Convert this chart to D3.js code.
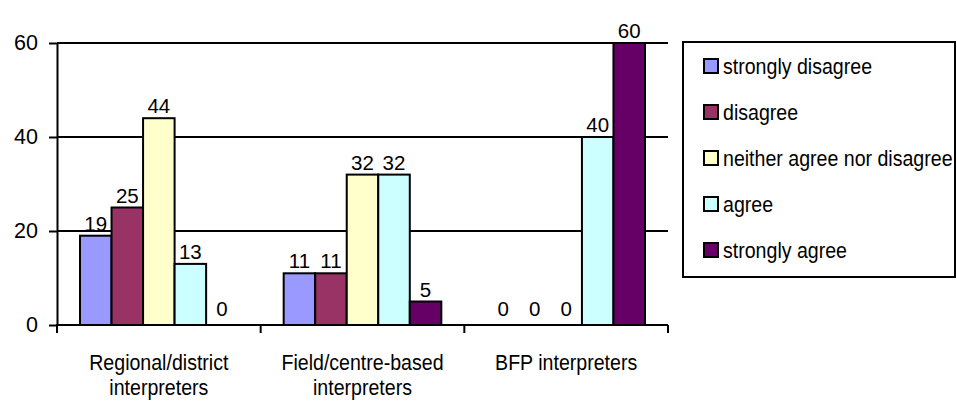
<!DOCTYPE html>
<html>
<head>
<meta charset="utf-8">
<script src="https://cdn.jsdelivr.net/npm/d3@7/dist/d3.min.js"></script>
<style>
  html, body { margin: 0; padding: 0; background: #fff; }
  svg { display: block; font-family: "Liberation Sans", Arial, sans-serif; }
</style>
</head>
<body>
<svg id="chart" width="957" height="401"></svg>
<script>
// Survey responses by interpreter group (percent)
const categories = [
  ["Regional/district", "interpreters"],
  ["Field/centre-based", "interpreters"],
  ["BFP interpreters"]
];
const seriesNames = [
  "strongly disagree",
  "disagree",
  "neither agree nor disagree",
  "agree",
  "strongly agree"
];
const seriesColors = ["#9999FF", "#993366", "#FFFFCC", "#CCFFFF", "#660066"];
// one array per response, one value per interpreter group
const stronglyDisagree = [19, 11, 0];
const disagree = [25, 11, 0];
const neither = [44, 32, 0];
const agree = [13, 32, 40];
const stronglyAgree = [0, 5, 60];
const yTicks = [0, 20, 40, 60];

const values = [stronglyDisagree, disagree, neither, agree, stronglyAgree];
const catKeys = categories.map((c, i) => "c" + i);

// word labels use a tall, slightly condensed face
const WORD_SIZE = 22;
const WORD_SQUEEZE = 0.89;

const svg = d3.select("#chart");
const plot = { left: 57, right: 668, top: 43, bottom: 325 };

const y = d3.scaleLinear().domain([0, 60]).range([plot.bottom, plot.top]);
const x0 = d3.scaleBand().domain(catKeys).range([plot.left, plot.right]).padding(0);
const x1 = d3.scaleBand().domain(d3.range(seriesNames.length))
  .range([0, x0.bandwidth()]).paddingInner(0).paddingOuter(0.73);

// horizontal gridlines
svg.append("g")
  .selectAll("line")
  .data(yTicks.filter(t => t > 0))
  .join("line")
  .attr("x1", plot.left).attr("x2", plot.right)
  .attr("y1", d => y(d)).attr("y2", d => y(d))
  .attr("stroke", "#000").attr("stroke-width", 2);

// bars
const groups = svg.append("g")
  .selectAll("g")
  .data(catKeys)
  .join("g")
  .attr("transform", d => `translate(${x0(d)},0)`);

groups.selectAll("rect")
  .data((d, ci) => values.map((s, si) => ({ si, v: s[ci] })).filter(e => e.v > 0))
  .join("rect")
  .attr("x", d => x1(d.si))
  .attr("width", x1.bandwidth())
  .attr("y", d => y(d.v))
  .attr("height", d => y(0) - y(d.v))
  .attr("fill", d => seriesColors[d.si])
  .attr("stroke", "#000").attr("stroke-width", 2);

// value labels
groups.selectAll("text")
  .data((d, ci) => values.map((s, si) => ({ si, v: s[ci] })))
  .join("text")
  .attr("x", d => x1(d.si) + x1.bandwidth() / 2)
  .attr("y", d => d.v > 0 ? y(d.v) - 5 : y(0) - 9)
  .attr("text-anchor", "middle")
  .attr("font-size", 20.5)
  .attr("fill", "#000")
  .text(d => d.v);

// y axis
const yAxis = svg.append("g")
  .attr("transform", `translate(${plot.left},0)`)
  .call(d3.axisLeft(y).tickValues(yTicks).tickSize(8).tickPadding(11).tickSizeOuter(0));
yAxis.select(".domain").attr("stroke", "#000").attr("stroke-width", 2);
yAxis.selectAll(".tick line").attr("stroke", "#000").attr("stroke-width", 2);
yAxis.selectAll(".tick text")
  .attr("font-size", 21.5)
  .attr("font-family", "Liberation Sans, Arial, sans-serif")
  .attr("fill", "#000");

// x axis with ticks at group boundaries
const xBoundaries = catKeys.map(k => x0(k)).concat([plot.right]);
const xAxisG = svg.append("g");
xAxisG.append("line")
  .attr("x1", plot.left - 1).attr("x2", plot.right)
  .attr("y1", y(0)).attr("y2", y(0))
  .attr("stroke", "#000").attr("stroke-width", 2);
xAxisG.selectAll("line.tk")
  .data(xBoundaries)
  .join("line")
  .attr("class", "tk")
  .attr("x1", d => d).attr("x2", d => d)
  .attr("y1", y(0)).attr("y2", y(0) + 8)
  .attr("stroke", "#000").attr("stroke-width", 2);

xAxisG.selectAll("text.cat")
  .data(categories)
  .join("text")
  .attr("class", "cat")
  .attr("text-anchor", "middle")
  .attr("font-size", WORD_SIZE)
  .attr("fill", "#000")
  .attr("transform", (d, i) =>
    `translate(${x0(catKeys[i]) + x0.bandwidth() / 2},370) scale(${WORD_SQUEEZE},1)`)
  .selectAll("tspan")
  .data(d => d)
  .join("tspan")
  .attr("x", 0)
  .attr("dy", (d, i) => i === 0 ? 0 : 25)
  .text(d => d);

// legend
const legend = svg.append("g");
legend.append("rect")
  .attr("x", 683).attr("y", 42)
  .attr("width", 272).attr("height", 235)
  .attr("fill", "#fff").attr("stroke", "#000").attr("stroke-width", 2);

const legendY = d3.scalePoint().domain(d3.range(seriesNames.length)).range([66, 250]);
const items = legend.selectAll("g.item")
  .data(seriesNames)
  .join("g")
  .attr("class", "item")
  .attr("transform", (d, i) => `translate(0,${legendY(i)})`);
items.append("rect")
  .attr("x", 704).attr("y", -7)
  .attr("width", 14).attr("height", 14)
  .attr("fill", (d, i) => seriesColors[i])
  .attr("stroke", "#000").attr("stroke-width", 2);
items.append("text")
  .attr("transform", `translate(723,0) scale(${WORD_SQUEEZE},1)`)
  .attr("dy", "0.35em")
  .attr("font-size", WORD_SIZE)
  .attr("fill", "#000")
  .text(d => d);
</script>
</body>
</html>
